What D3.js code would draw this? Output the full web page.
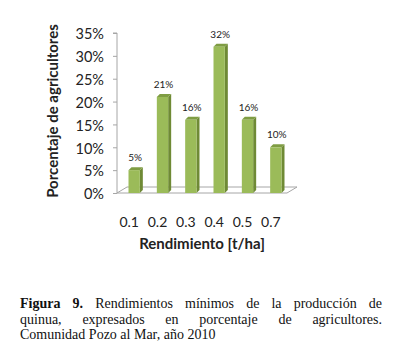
<!DOCTYPE html>
<html><head><meta charset="utf-8">
<script src="https://cdn.jsdelivr.net/npm/d3@7"></script>
<style>body{margin:0;background:#fff;}svg{display:block;}</style>
</head><body>
<svg id="c" width="396" height="357"></svg>
<script>
const categories = ["0.1","0.2","0.3","0.4","0.5","0.7"];
const values = [5, 21, 16, 32, 16, 10];
const yTicks = [0,5,10,15,20,25,30,35];
const yTitle = "Porcentaje de agricultores";
const xTitle = "Rendimiento [t/ha]";
const captionLines = [
  "Figura 9. Rendimientos mínimos de la producción de",
  "quinua, expresados en porcentaje de agricultores.",
  "Comunidad Pozo al Mar, año 2010"
];

const svg = d3.select("#c");
const font = "Lato, 'Open Sans', sans-serif";
const y = d3.scaleLinear().domain([0,35]).range([193,33]);
const x = d3.scaleBand().domain(categories).range([120,290]).paddingInner(0.6).paddingOuter(0.3);
const dx = 10, dy = 6, side = 3;

// floor
const fl = 117, fr = 287, fb = y(0);
svg.append("path")
  .attr("d", `M${fl},${fb} L${fl+dx},${fb-dy} L${fr+dx},${fb-dy} L${fr},${fb} Z`)
  .attr("fill","#fff").attr("stroke","#a6a6a6").attr("stroke-width",1);

// y axis
const yAxis = d3.axisLeft(y).tickValues(yTicks).tickSize(4).tickFormat(d => d + "%");
const ga = svg.append("g").attr("transform","translate(117,0)").call(yAxis);
ga.select(".domain").attr("stroke","#a6a6a6").attr("d", `M-4,${y(35)}H0V${y(0)}`);
ga.selectAll(".tick line").attr("stroke","#a6a6a6");
ga.selectAll(".tick text").attr("font-family",font).attr("font-size",14.5).attr("fill","#222").attr("x",-13).attr("dy","0.4em");

// bars
const bars = svg.append("g");
categories.forEach((c,i) => {
  const x0 = x(c), w = x.bandwidth(), top = y(values[i]), bot = y(0);
  bars.append("path").attr("d", `M${x0+w},${top} L${x0+w+side},${top-side} L${x0+w+side},${bot-side} L${x0+w},${bot} Z`).attr("fill","#6f8a35");
  bars.append("path").attr("d", `M${x0},${top} L${x0+side},${top-side} L${x0+w+side},${top-side} L${x0+w},${top} Z`).attr("fill","#7f9d43");
  bars.append("rect").attr("x",x0).attr("y",top).attr("width",w).attr("height",bot-top).attr("fill","#9bbb59");
  svg.append("text").attr("x", x0+w/2+1).attr("y", top-9).attr("text-anchor","middle")
    .attr("font-family",font).attr("font-size",10).attr("fill","#222").text(values[i] + "%");
});

// x axis labels
const gx = svg.append("g").attr("transform","translate(-5,0)");
categories.forEach(c => {
  gx.append("text").attr("x", x(c)+x.bandwidth()/2).attr("y",227).attr("text-anchor","middle")
    .attr("font-family",font).attr("font-size",14).attr("fill","#222").text(c);
});

svg.append("text").attr("x",202).attr("y",249).attr("text-anchor","middle")
  .attr("font-family",font).attr("font-weight","bold").attr("font-size",15).attr("fill","#222").text(xTitle);
svg.append("text").attr("transform","translate(58,111) rotate(-90)").attr("text-anchor","middle")
  .attr("font-family",font).attr("font-weight","bold").attr("font-size",15).attr("fill","#222").text(yTitle);

// caption (justified)
const cx0 = 20, cx1 = 382, cy = [308, 323.5, 339];
const serif = "'Liberation Serif', 'Times New Roman', serif";
captionLines.forEach((line, li) => {
  const words = line.split(" ");
  const g = svg.append("g");
  const nodes = words.map((w, wi) => {
    const bold = li === 0 && wi < 2;
    return g.append("text").attr("y", cy[li]).attr("font-family", serif).attr("font-size", 14)
      .attr("font-weight", bold ? "bold" : "normal").attr("fill","#111").text(w);
  });
  const widths = nodes.map(n => n.node().getComputedTextLength());
  const total = d3.sum(widths);
  const justify = li < captionLines.length - 1;
  const gap = justify ? (cx1 - cx0 - total) / (words.length - 1) : 3.5;
  let cur = cx0;
  nodes.forEach((n, i) => { n.attr("x", cur); cur += widths[i] + gap; });
});
</script>
</body></html>
